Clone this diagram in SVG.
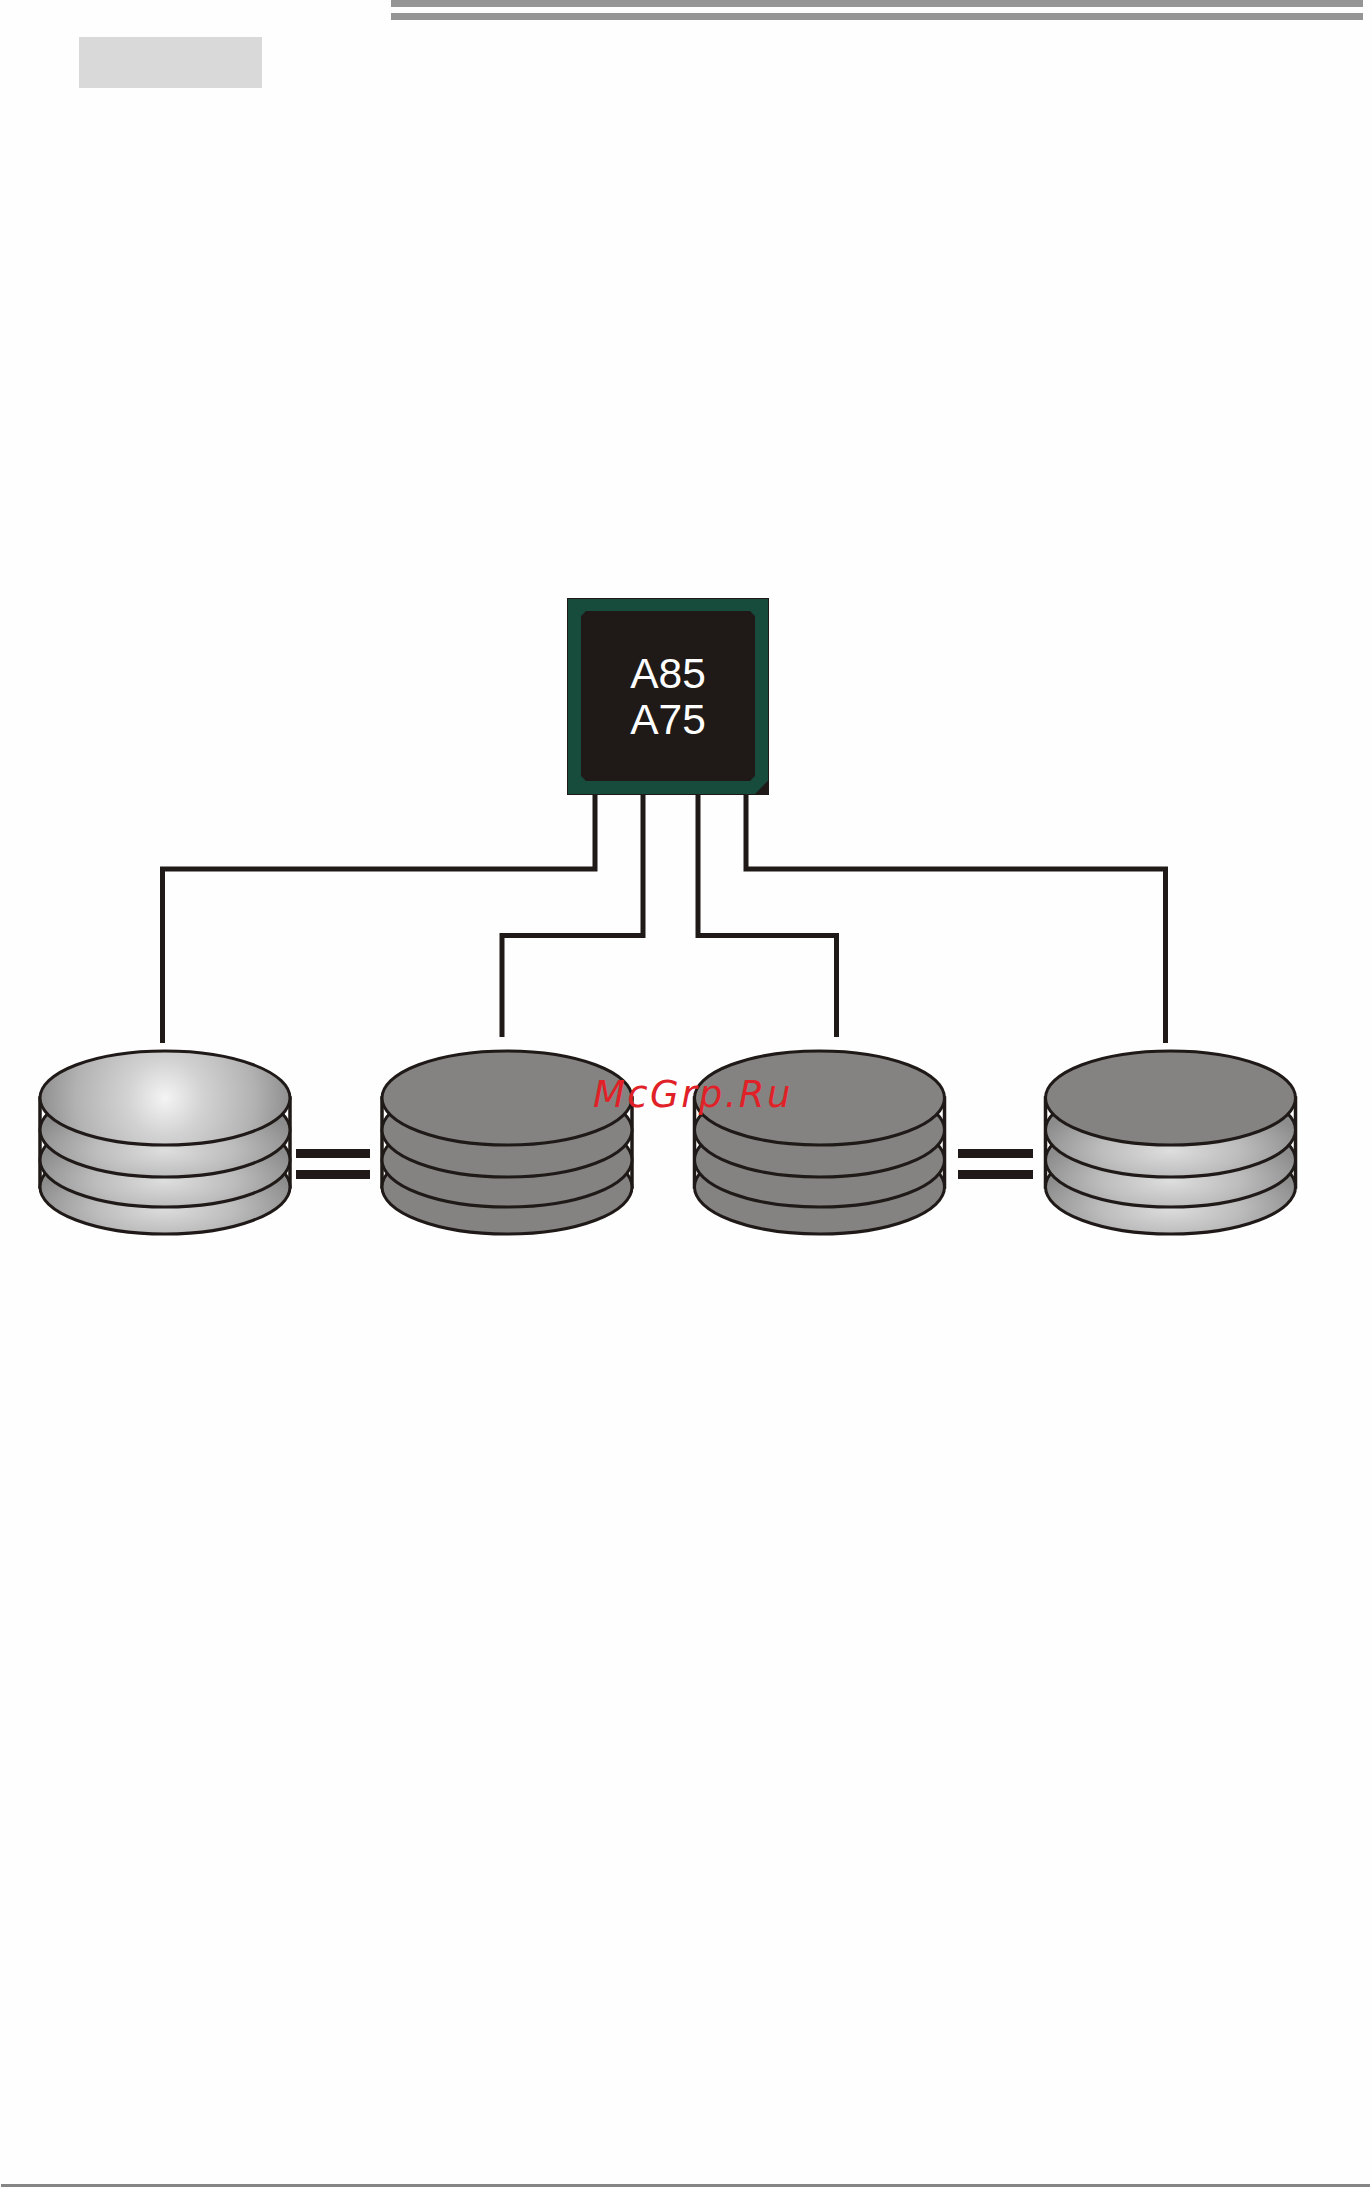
<svg xmlns="http://www.w3.org/2000/svg" width="1372" height="2187" viewBox="0 0 1372 2187">
<style>
.wire{fill:none;stroke:#1f1a17;stroke-width:5;stroke-linejoin:miter}
.d{stroke:#1f1a17;stroke-width:3}
.side{stroke:#1f1a17;stroke-width:3.500;fill:#fff}
.flat{fill:#848382}
.lay{fill:url(#layer)}
.bar{fill:#1f1a17}
.rule{fill:#959595}
.chipt{font-family:"Liberation Sans",Arial,sans-serif;font-size:42.500px;fill:#fff;text-anchor:middle}
</style>
<defs>
<radialGradient id="top" gradientUnits="userSpaceOnUse" cx="0" cy="0" r="128"><stop offset="0" stop-color="#f4f4f4"/><stop offset="0.3" stop-color="#d2d2d2"/><stop offset="0.7" stop-color="#b2b2b2"/><stop offset="1" stop-color="#8c8c8c"/></radialGradient>
<radialGradient id="layer" cx="0.5" cy="0.72" r="0.55"><stop offset="0" stop-color="#dedede"/><stop offset="0.5" stop-color="#bdbdbd"/><stop offset="1" stop-color="#8c8c8c"/></radialGradient>
<g id="stackbase">
<path class="side" d="M-125 0H125V89H-125Z"/>
</g>
</defs>
<rect width="1372" height="2187" fill="#fefefe"/>
<rect class="rule" x="391" y="0" width="972" height="7"/>
<rect class="rule" x="391" y="13" width="972" height="7"/>
<rect x="79" y="37" width="183" height="51" fill="#d9d9d9"/>
<rect x="1" y="2184" width="1369" height="3" fill="#858585"/>
<g id="connectors">
<path class="wire" d="M595 794V869H162.500V1043"/>
<path class="wire" d="M643 794V935.500H502V1037"/>
<path class="wire" d="M698 794V935.500H836.500V1037"/>
<path class="wire" d="M746 794V869H1165.500V1043"/>
<rect class="bar" x="296" y="1149" width="74" height="9"/>
<rect class="bar" x="296" y="1170" width="74" height="9"/>
<rect class="bar" x="958" y="1149" width="75" height="9"/>
<rect class="bar" x="958" y="1170" width="75" height="9"/>
</g>
<g id="chip">
<rect x="567.500" y="598.500" width="201" height="196" fill="#174c3c" stroke="#1f1a17" stroke-width="1"/>
<path d="M768.700 780V795H754Z" fill="#1f1a17"/>
<path d="M586 611H750L755 616V776L750 781H586L581 776V616Z" fill="#1f1a17"/>
<text class="chipt" x="668" y="688">A85</text>
<text class="chipt" x="668" y="734">A75</text>
</g>
<g id="disk1" transform="translate(165 1098)">
<use href="#stackbase"/>
<ellipse class="d lay" cx="0" cy="89" rx="125" ry="47"/>
<ellipse class="d lay" cx="0" cy="62" rx="125" ry="47"/>
<ellipse class="d lay" cx="0" cy="32" rx="125" ry="47"/>
<ellipse class="d" fill="url(#top)" cx="0" cy="0" rx="125" ry="47"/>
</g>
<g id="disk2" transform="translate(507 1098)">
<use href="#stackbase"/>
<ellipse class="d flat" cx="0" cy="89" rx="125" ry="47"/>
<ellipse class="d flat" cx="0" cy="62" rx="125" ry="47"/>
<ellipse class="d flat" cx="0" cy="32" rx="125" ry="47"/>
<ellipse class="d flat" cx="0" cy="0" rx="125" ry="47"/>
</g>
<g id="disk3" transform="translate(819.500 1098)">
<use href="#stackbase"/>
<ellipse class="d flat" cx="0" cy="89" rx="125" ry="47"/>
<ellipse class="d flat" cx="0" cy="62" rx="125" ry="47"/>
<ellipse class="d flat" cx="0" cy="32" rx="125" ry="47"/>
<ellipse class="d flat" cx="0" cy="0" rx="125" ry="47"/>
</g>
<g id="disk4" transform="translate(1170.500 1098)">
<use href="#stackbase"/>
<ellipse class="d lay" cx="0" cy="89" rx="125" ry="47"/>
<ellipse class="d lay" cx="0" cy="62" rx="125" ry="47"/>
<ellipse class="d lay" cx="0" cy="32" rx="125" ry="47"/>
<ellipse class="d flat" cx="0" cy="0" rx="125" ry="47"/>
</g>
<text x="593" y="1106.500" font-family="'DejaVu Sans',sans-serif" font-style="oblique" font-size="37" letter-spacing="2.400" fill="#e02228">McGrp.Ru</text>
</svg>
